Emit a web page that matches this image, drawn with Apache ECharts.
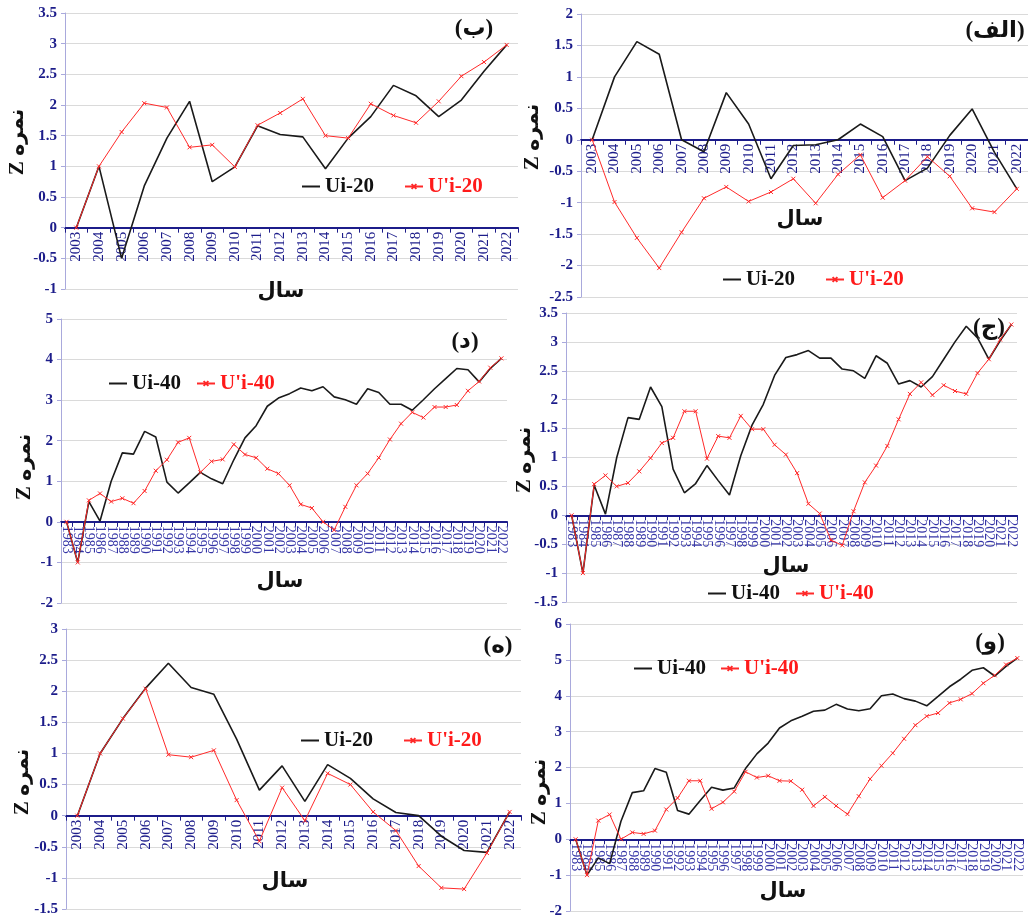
<!DOCTYPE html>
<html>
<head>
<meta charset="utf-8">
<script src="https://cdn.jsdelivr.net/npm/echarts@6/dist/echarts.min.js"></script>
<style>
  html, body { margin: 0; padding: 0; background: #fff; }
  #main { width: 1028px; height: 919px; }
</style>
</head>
<body>
<div id="main"></div>
<script>
// سال ها
const years20 = ['2003','2004','2005','2006','2007','2008','2009','2010','2011','2012',
                 '2013','2014','2015','2016','2017','2018','2019','2020','2021','2022'];
const years40 = ['1983','1984','1985','1986','1987','1988','1989','1990','1991','1992',
                 '1993','1994','1995','1996','1997','1998','1999','2000','2001','2002',
                 '2003','2004','2005','2006','2007','2008','2009','2010','2011','2012',
                 '2013','2014','2015','2016','2017','2018','2019','2020','2021','2022'];

// (الف)
const alefUi  = [0, 1.0, 1.56, 1.36, 0, -0.19, 0.75, 0.25, -0.62, -0.09, -0.08, 0, 0.25, 0.05, -0.65, -0.45, 0.07, 0.49, -0.2, -0.78];
const alefUpi = [0, -0.99, -1.56, -2.04, -1.47, -0.93, -0.75, -0.98, -0.83, -0.62, -1.01, -0.55, -0.24, -0.92, -0.65, -0.27, -0.58, -1.09, -1.15, -0.78];
// (ب)
const beUi  = [0, 1.0, -0.5, 0.68, 1.46, 2.06, 0.75, 0.99, 1.66, 1.52, 1.48, 0.96, 1.46, 1.81, 2.32, 2.15, 1.81, 2.08, 2.55, 2.98];
const beUpi = [0, 1.0, 1.56, 2.03, 1.96, 1.31, 1.35, 0.99, 1.67, 1.87, 2.1, 1.5, 1.46, 2.02, 1.83, 1.71, 2.06, 2.47, 2.7, 2.98];
// (ج)
const jimUi  = [0, -1.0, 0.52, 0.02, 1.0, 1.69, 1.66, 2.22, 1.88, 0.8, 0.39, 0.55, 0.86, 0.6, 0.35, 1.03, 1.56, 1.92, 2.42, 2.73,
                2.78, 2.85, 2.72, 2.72, 2.53, 2.5, 2.37, 2.76, 2.63, 2.27, 2.33, 2.22, 2.4, 2.7, 3.0, 3.27, 3.07, 2.7, 3.02, 3.3];
const jimUpi = [0, -1.0, 0.54, 0.69, 0.5, 0.56, 0.76, 0.99, 1.25, 1.34, 1.8, 1.8, 0.98, 1.37, 1.34, 1.72, 1.49, 1.49, 1.22, 1.05,
                0.73, 0.2, 0.03, -0.43, -0.52, 0.07, 0.57, 0.86, 1.2, 1.66, 2.1, 2.3, 2.08, 2.25, 2.15, 2.1, 2.46, 2.7, 3.04, 3.3];
// (د)
const dalUi  = [0, -1.0, 0.5, 0.02, 1.0, 1.7, 1.67, 2.23, 2.09, 0.98, 0.71, 0.96, 1.22, 1.06, 0.94, 1.53, 2.07, 2.37, 2.85, 3.05,
                3.16, 3.3, 3.23, 3.33, 3.08, 3.01, 2.9, 3.28, 3.19, 2.9, 2.9, 2.75, 3.01, 3.28, 3.53, 3.78, 3.75, 3.45, 3.78, 4.03];
const dalUpi = [0, -1.0, 0.53, 0.7, 0.5, 0.58, 0.46, 0.76, 1.26, 1.53, 1.96, 2.07, 1.22, 1.49, 1.54, 1.91, 1.66, 1.58, 1.31, 1.19,
                0.9, 0.43, 0.34, 0.0, -0.2, 0.37, 0.9, 1.19, 1.58, 2.03, 2.42, 2.7, 2.57, 2.83, 2.83, 2.88, 3.23, 3.46, 3.8, 4.03];
// (ه)
const heUi  = [0, 1.0, 1.56, 2.05, 2.45, 2.06, 1.95, 1.23, 0.41, 0.8, 0.23, 0.82, 0.6, 0.27, 0.05, 0.0, -0.33, -0.56, -0.59, 0.06];
const heUpi = [0, 1.0, 1.56, 2.04, 0.98, 0.94, 1.05, 0.25, -0.41, 0.45, -0.08, 0.68, 0.5, 0.06, -0.24, -0.81, -1.16, -1.18, -0.6, 0.06];
// (و)
const vavUi  = [0, -1.0, -0.52, -0.68, 0.5, 1.3, 1.35, 1.97, 1.87, 0.8, 0.7, 1.08, 1.45, 1.37, 1.43, 1.97, 2.38, 2.68, 3.1, 3.3,
                3.43, 3.57, 3.6, 3.76, 3.63, 3.58, 3.64, 4.0, 4.05, 3.92, 3.85, 3.72, 3.98, 4.25, 4.46, 4.71, 4.78, 4.55, 4.82, 5.05];
const vavUpi = [0, -1.0, 0.52, 0.69, 0.0, 0.19, 0.15, 0.24, 0.83, 1.15, 1.63, 1.63, 0.85, 1.03, 1.33, 1.88, 1.72, 1.77, 1.63, 1.62,
                1.38, 0.93, 1.18, 0.93, 0.7, 1.2, 1.68, 2.05, 2.4, 2.8, 3.18, 3.43, 3.52, 3.8, 3.9, 4.06, 4.35, 4.57, 4.87, 5.05];

const SERIF = "'Liberation Serif', 'DejaVu Sans', serif";
const NAVY = '#1c1c8a';

// چیدمان شش نمودار
const panels = [
  { tag: '(ب)',   grid: [65, 13, 453, 276],  min: -1,   max: 3.5, step: 0.5, cats: years20, ui: beUi,  upi: beUpi,  n: '20', rot: 90,  fs: 15,
    leg: [301, 187, 30], letter: [474, 29],  sal: [281, 292], zname: [18, 142] },
  { tag: '(الف)', grid: [581, 14, 452, 283], min: -2.5, max: 2,   step: 0.5, cats: years20, ui: alefUi, upi: alefUpi, n: '20', rot: 90, fs: 15,
    leg: [722, 280, 30], letter: [995, 31], sal: [800, 220], zname: [533, 137] },
  { tag: '(د)',   grid: [61, 319, 446, 284], min: -2,   max: 5,   step: 1,   cats: years40, ui: dalUi, upi: dalUpi, n: '40', rot: -90, fs: 14,
    leg: [108, 384, 15], letter: [465, 342], sal: [280, 582], zname: [25, 467] },
  { tag: '(ج)',   grid: [566, 313, 451, 289], min: -1.5, max: 3.5, step: 0.5, cats: years40, ui: jimUi, upi: jimUpi, n: '40', rot: -90, fs: 14,
    leg: [707, 594, 15], letter: [989, 328], sal: [786, 567], zname: [525, 460] },
  { tag: '(ه)',   grid: [66, 629, 455, 280], min: -1.5, max: 3,   step: 0.5, cats: years20, ui: heUi,  upi: heUpi,  n: '20', rot: 90,  fs: 15,
    leg: [300, 741, 30], letter: [498, 646], sal: [285, 882], zname: [23, 782] },
  { tag: '(و)',   grid: [570, 624, 453, 287], min: -2,   max: 6,   step: 1,   cats: years40, ui: vavUi, upi: vavUpi, n: '40', rot: -90, fs: 14,
    leg: [633, 669, 14], letter: [990, 643], sal: [783, 892], zname: [540, 792] }
];

const crossMark = 'path://M0,0L10,10M10,0L0,10';

const chart = echarts.init(document.getElementById('main'), null, { renderer: 'canvas' });

const option = {
  animation: false,
  backgroundColor: '#fff',
  grid: panels.map(p => ({ left: p.grid[0], top: p.grid[1], width: p.grid[2], height: p.grid[3], containLabel: false })),
  xAxis: panels.map((p, i) => ({
    type: 'category', gridIndex: i, data: p.cats, boundaryGap: true,
    // محور افقی روی خط صفر
    offset: -(-p.min) / (p.max - p.min) * p.grid[3],
    axisLine: { onZero: false, lineStyle: { color: NAVY, width: 2 } },
    axisTick: { show: true, length: 5, lineStyle: { color: NAVY, width: 1 } },
    axisLabel: { interval: 0, rotate: p.rot, margin: 4, color: p.n === '40' ? '#3434a6' : NAVY, fontSize: p.fs, fontFamily: SERIF },
    splitLine: { show: false }
  })),
  yAxis: panels.map((p, i) => ({
    type: 'value', gridIndex: i, min: p.min, max: p.max, interval: p.step,
    axisLine: { show: true, onZero: false, lineStyle: { color: '#a9a9dc', width: 1 } },
    axisTick: { show: true, length: 4, lineStyle: { color: '#a9a9dc' } },
    axisLabel: { color: NAVY, fontSize: 15, fontWeight: 'bold', fontFamily: SERIF, margin: 8 },
    splitLine: { show: true, lineStyle: { color: '#dadada', width: 1 } }
  })),
  legend: panels.map(p => ({
    left: p.leg[0], top: p.leg[1] - 11, padding: 0, itemGap: p.leg[2],
    itemWidth: 18, itemHeight: 6, selectedMode: false,
    textStyle: { fontFamily: SERIF, fontWeight: 'bold', fontSize: 21 },
    data: [
      { name: 'Ui-' + p.n, itemStyle: { opacity: 0 }, textStyle: { color: '#111' } },
      { name: "U'i-" + p.n, textStyle: { color: '#ff1a1a' } }
    ]
  })),
  series: panels.flatMap((p, i) => [
    {
      type: 'line', name: 'Ui-' + p.n, xAxisIndex: i, yAxisIndex: i, data: p.ui,
      symbol: 'none', lineStyle: { color: '#1a1a1a', width: 1.6 }, itemStyle: { color: '#1a1a1a' }, z: 3
    },
    {
      type: 'line', name: "U'i-" + p.n, xAxisIndex: i, yAxisIndex: i, data: p.upi,
      symbol: crossMark, symbolSize: 4, showAllSymbol: true,
      lineStyle: { color: '#ff2a2a', width: 1 },
      itemStyle: { color: '#ff2a2a', borderColor: '#ff2a2a', borderWidth: 1 }, z: 4
    }
  ]),
  graphic: panels.flatMap(p => [
    { type: 'text', x: p.letter[0], y: p.letter[1], z: 10,
      style: { text: p.tag, font: "bold 23px 'Liberation Serif', 'DejaVu Sans', serif", fill: '#111', align: 'center', verticalAlign: 'middle' } },
    { type: 'text', x: p.sal[0], y: p.sal[1], z: 10,
      style: { text: 'سال', font: "bold 21px 'DejaVu Sans', serif", fill: '#111', align: 'center', verticalAlign: 'middle' } },
    { type: 'text', x: p.zname[0], y: p.zname[1], rotation: Math.PI / 2, z: 10,
      style: { text: 'Z نمره', font: "bold 21px 'Liberation Serif', 'DejaVu Sans', serif", fill: '#111', align: 'center', verticalAlign: 'middle' } }
  ])
};

chart.setOption(option);
</script>
</body>
</html>
